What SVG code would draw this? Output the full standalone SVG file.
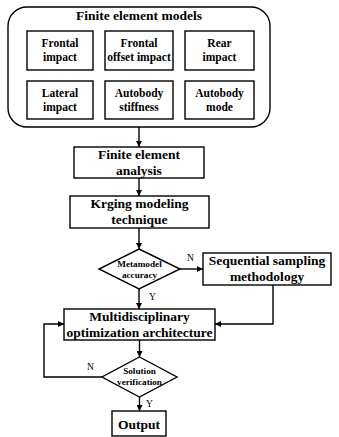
<svg xmlns="http://www.w3.org/2000/svg" width="339" height="437" viewBox="0 0 339 437">
<style>
text{font-family:"Liberation Serif","Times New Roman",serif;font-weight:bold;fill:#000;text-anchor:middle}
.box{fill:#fff;stroke:#000;stroke-width:1.4}
.s{font-size:11.5px}
.m{font-size:13.5px}
.d{font-size:9.2px}
.lbl{font-size:9.5px;font-weight:normal;text-anchor:start}
.c{fill:none;stroke:#000;stroke-width:1.4}
</style>
<defs>
<marker id="ah" viewBox="0 0 10 10" refX="10" refY="5" markerWidth="6" markerHeight="6" markerUnits="userSpaceOnUse" orient="auto">
<path d="M0,0 L10,5 L0,10 z" fill="#000"/>
</marker>
</defs>
<rect width="339" height="437" fill="#fff"/>
<g id="fem">
<rect class="box" x="8" y="7" width="262" height="120" rx="19" ry="19"/>
<text class="m" x="139" y="20">Finite element models</text>
</g>
<g id="frontal">
<rect class="box" x="27" y="31" width="66" height="39"/>
<text class="s" x="60" y="47">Frontal</text>
<text class="s" x="60" y="61">impact</text>
</g>
<g id="offset">
<rect class="box" x="105" y="31" width="68" height="39"/>
<text class="s" x="139" y="47">Frontal</text>
<text class="s" x="139" y="61">offset impact</text>
</g>
<g id="rear">
<rect class="box" x="185" y="31" width="69" height="39"/>
<text class="s" x="219.5" y="47">Rear</text>
<text class="s" x="219.5" y="61">impact</text>
</g>
<g id="lateral">
<rect class="box" x="27" y="81" width="66" height="38"/>
<text class="s" x="60" y="97">Lateral</text>
<text class="s" x="60" y="111">impact</text>
</g>
<g id="stiffness">
<rect class="box" x="105" y="81" width="68" height="38"/>
<text class="s" x="139" y="97">Autobody</text>
<text class="s" x="139" y="111">stiffness</text>
</g>
<g id="mode">
<rect class="box" x="185" y="81" width="69" height="38"/>
<text class="s" x="219.5" y="97">Autobody</text>
<text class="s" x="219.5" y="111">mode</text>
</g>
<g id="fea">
<rect class="box" x="74" y="147" width="130" height="31"/>
<text class="m" x="139" y="159">Finite element</text>
<text class="m" x="139" y="175">analysis</text>
</g>
<g id="kriging">
<rect class="box" x="70" y="196" width="139" height="32"/>
<text class="m" x="139.5" y="208">Krging modeling</text>
<text class="m" x="139.5" y="224">technique</text>
</g>
<g id="accuracy">
<polygon class="box" points="139,249 180,269 139,289 99,269"/>
<text class="d" x="139.5" y="267">Metamodel</text>
<text class="d" x="139.5" y="278">accuracy</text>
</g>
<g id="sequential">
<rect class="box" x="203" y="253" width="128" height="32"/>
<text class="m" x="267" y="265">Sequential sampling</text>
<text class="m" x="267" y="281">methodology</text>
</g>
<g id="mdo">
<rect class="box" x="64" y="309" width="151" height="31"/>
<text class="m" x="139.5" y="321">Multidisciplinary</text>
<text class="m" x="139.5" y="337">optimization architecture</text>
</g>
<g id="verification">
<polygon class="box" points="139.5,357 177,377 139.5,397 102,377"/>
<text class="d" x="139.5" y="374">Solution</text>
<text class="d" x="139.5" y="385">verification</text>
</g>
<g id="output">
<rect class="box" x="112" y="411" width="54" height="25"/>
<text class="m" x="139" y="429">Output</text>
</g>
<g id="connectors">
<path class="c" d="M139,127 V147" marker-end="url(#ah)"/>
<path class="c" d="M139,178 V196" marker-end="url(#ah)"/>
<path class="c" d="M139,228 V249" marker-end="url(#ah)"/>
<path class="c" d="M180,269 H203" marker-end="url(#ah)"/>
<path class="c" d="M139,289 V309" marker-end="url(#ah)"/>
<path class="c" d="M273,285 V324 H215" marker-end="url(#ah)"/>
<path class="c" d="M139.5,340 V357" marker-end="url(#ah)"/>
<path class="c" d="M102,377 H44 V324 H64" marker-end="url(#ah)"/>
<path class="c" d="M139.5,397 V411" marker-end="url(#ah)"/>
<text class="lbl" x="187" y="261">N</text>
<text class="lbl" x="149" y="300">Y</text>
<text class="lbl" x="87" y="370">N</text>
<text class="lbl" x="146" y="407">Y</text>
</g>
</svg>
